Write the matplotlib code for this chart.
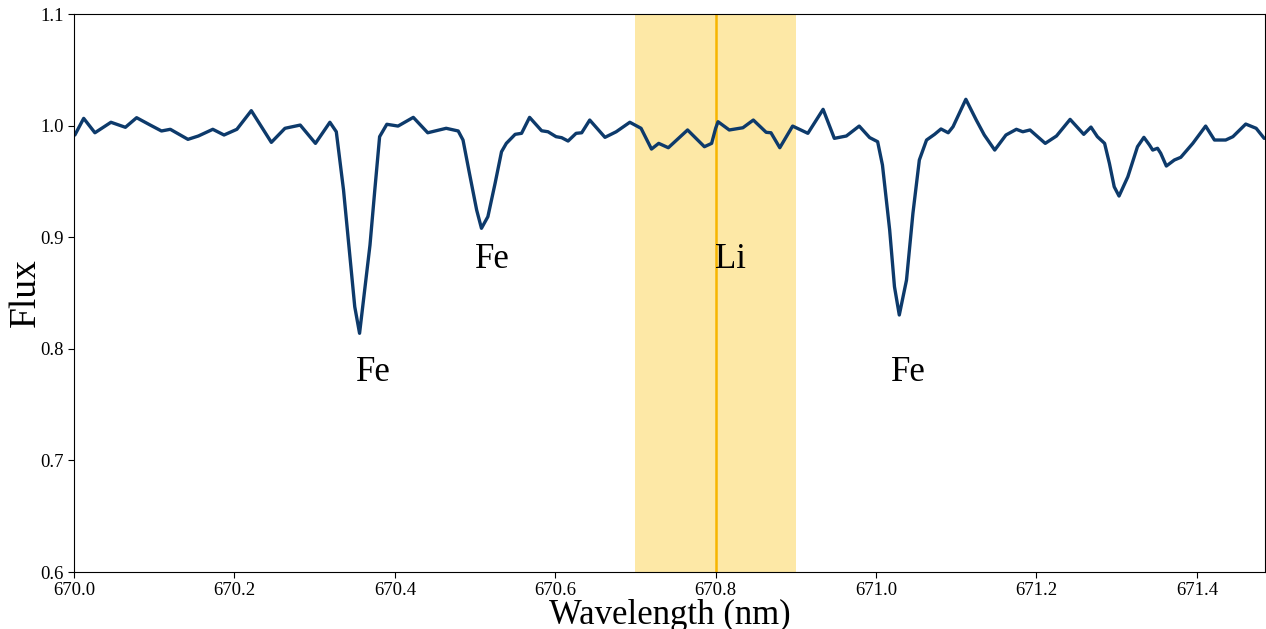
import matplotlib
matplotlib.use("Agg")
import matplotlib.pyplot as plt

plt.rcParams['font.family'] = ['Liberation Serif', 'DejaVu Serif']

wavelength = [670.001, 670.012, 670.026, 670.046, 670.064, 670.078, 670.095, 670.109, 670.120, 670.142,
              670.155, 670.173, 670.187, 670.203, 670.221, 670.246, 670.263, 670.269, 670.282, 670.301,
              670.319, 670.327, 670.336, 670.344, 670.350, 670.356, 670.369, 670.375, 670.381, 670.390,
              670.404, 670.423, 670.441, 670.464, 670.479, 670.485, 670.493, 670.502, 670.508, 670.516,
              670.525, 670.533, 670.539, 670.550, 670.558, 670.568, 670.583, 670.591, 670.601, 670.608,
              670.616, 670.626, 670.633, 670.643, 670.662, 670.676, 670.693, 670.707, 670.720, 670.729,
              670.741, 670.765, 670.786, 670.795, 670.800, 670.803, 670.817, 670.834, 670.847, 670.863,
              670.869, 670.880, 670.896, 670.915, 670.934, 670.948, 670.963, 670.979, 670.992, 671.002,
              671.008, 671.017, 671.023, 671.029, 671.038, 671.046, 671.054, 671.063, 671.073, 671.081,
              671.090, 671.096, 671.112, 671.125, 671.135, 671.148, 671.162, 671.175, 671.183, 671.192,
              671.211, 671.225, 671.242, 671.259, 671.268, 671.276, 671.285, 671.291, 671.297, 671.303,
              671.314, 671.326, 671.334, 671.341, 671.345, 671.351, 671.355, 671.362, 671.372, 671.380,
              671.395, 671.411, 671.422, 671.436, 671.445, 671.461, 671.474, 671.484]
flux = [0.9916, 1.0065, 0.9936, 1.0030, 0.9985, 1.0071, 1.0005, 0.9952, 0.9967, 0.9877,
        0.9907, 0.9967, 0.9916, 0.9967, 1.0134, 0.9850, 0.9976, 0.9985, 1.0005, 0.9841,
        1.0030, 0.9945, 0.9423, 0.8825, 0.8377, 0.8139, 0.8930, 0.9423, 0.9901, 1.0012,
        0.9996, 1.0074, 0.9936, 0.9976, 0.9952, 0.9871, 0.9573, 0.9244, 0.9080, 0.9184,
        0.9483, 0.9766, 0.9841, 0.9922, 0.9931, 1.0074, 0.9954, 0.9945, 0.9901, 0.9892,
        0.9862, 0.9931, 0.9936, 1.0050, 0.9895, 0.9945, 1.0030, 0.9976, 0.9790, 0.9841,
        0.9802, 0.9961, 0.9811, 0.9841, 0.9976, 1.0035, 0.9961, 0.9981, 1.0050, 0.9940,
        0.9936, 0.9802, 0.9996, 0.9931, 1.0146, 0.9886, 0.9907, 0.9996, 0.9893, 0.9856,
        0.9647, 0.9065, 0.8556, 0.8303, 0.8616, 0.9214, 0.9692, 0.9871, 0.9922, 0.9970,
        0.9936, 0.9990, 1.0236, 1.0050, 0.9916, 0.9781, 0.9916, 0.9967, 0.9945, 0.9961,
        0.9841, 0.9907, 1.0056, 0.9922, 0.9987, 0.9901, 0.9841, 0.9662, 0.9452, 0.9369,
        0.9542, 0.9811, 0.9895, 0.9826, 0.9781, 0.9797, 0.9752, 0.9638, 0.9692, 0.9716,
        0.9841, 0.9996, 0.9871, 0.9871, 0.9901, 1.0014, 0.9976, 0.9886]

line_labels = ['Fe', 'Fe', 'Li', 'Fe']
label_x = [670.373, 670.522, 670.819, 671.040]
label_y = [0.779, 0.880, 0.880, 0.779]

li_band = (670.7, 670.9)
li_center = 670.8

fig = plt.figure(figsize=(12.66, 6.29), dpi=100)
ax = fig.add_axes([0.0585, 0.0906, 0.9407, 0.8871])

ax.axvspan(li_band[0], li_band[1], color='#fde8a6', lw=0, zorder=0)
ax.axvline(li_center, color='#f7b500', lw=1.8, zorder=1)
ax.plot(wavelength, flux, color='#0d3a6b', lw=2.4, solid_joinstyle='round',
        solid_capstyle='round', zorder=2)

for t, x, y in zip(line_labels, label_x, label_y):
    ax.text(x, y, t, fontsize=25, ha='center', va='center')

ax.set_xlim(670.0, 671.485)
ax.set_ylim(0.6, 1.1)
ax.set_xticks([670.0, 670.2, 670.4, 670.6, 670.8, 671.0, 671.2, 671.4])
ax.set_yticks([0.6, 0.7, 0.8, 0.9, 1.0, 1.1])
ax.tick_params(labelsize=13.5, length=4)
ax.set_xlabel('Wavelength (nm)', fontsize=25, labelpad=-0.5)
ax.set_ylabel('Flux', fontsize=27, labelpad=-2)

fig.savefig('out.png', dpi=100)
